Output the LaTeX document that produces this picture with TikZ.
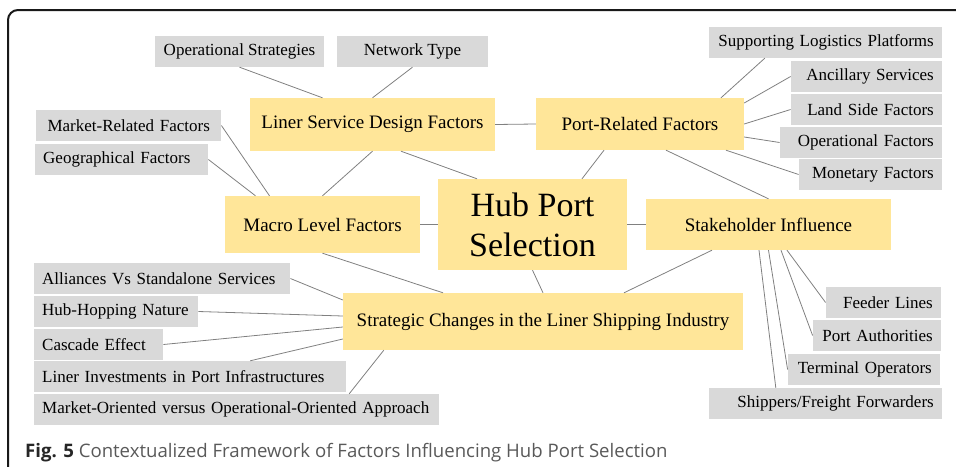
\documentclass[tikz,border=0pt]{standalone}
\usepackage{fontspec}
\setmainfont{Liberation Serif}
\newfontfamily\capfont{Open Sans}
\usepackage{tikz}
\usetikzlibrary{positioning}
\definecolor{boxgray}{HTML}{D9D9D9}
\definecolor{boxgold}{HTML}{FFE699}
\definecolor{linkgray}{HTML}{808080}
\tikzset{
  gbox/.style={fill=boxgray,inner xsep=8pt,inner ysep=0pt,minimum height=31pt,font=\fontsize{17}{20}\selectfont},
  ybox/.style={fill=boxgold,inner sep=0pt,align=center,font=\fontsize{19}{22}\selectfont},
  link/.style={draw=linkgray,line width=0.8pt}
}

\begin{document}
\begin{tikzpicture}[x=1pt,y=-1pt]
  \useasboundingbox (0,0) rectangle (956,466);
  \draw[line width=2pt,rounded corners=10pt,black!90] (8,480) -- (8,10) -- (970,10);

  \node[ybox,minimum width=245pt,minimum height=53pt] (lsd) at (372.5,124.5) {Liner Service Design Factors};
  \node[ybox,minimum width=208pt,minimum height=52pt] (prf) at (640,124) {Port-Related Factors};
  \node[ybox,minimum width=195pt,minimum height=57pt] (mlf) at (322.5,224.5) {Macro Level Factors};
  \node[ybox,minimum width=189pt,minimum height=91pt,font=\fontsize{34}{40}\selectfont] (hub) at (532.5,224.5) {Hub Port\\Selection};
  \node[ybox,minimum width=245pt,minimum height=51pt] (stk) at (768.5,224.5) {Stakeholder Influence};
  \node[ybox,minimum width=400pt,minimum height=57pt] (scl) at (543,321.5) {Strategic Changes in the Liner Shipping Industry};

  \node[gbox,minimum width=169pt] (opst) at (239.5,51.5) {Operational Strategies};
  \node[gbox,minimum width=151pt] (nett) at (412.5,51.5) {Network Type};

  \node[gbox,anchor=west,text width=169pt,align=center] (mrkt) at (36,125.5) {Market-Related Factors};
  \node[gbox,anchor=west,text width=157pt,align=left] (geog) at (35,159.5) {Geographical Factors};
  \node[gbox,anchor=west,text width=240pt,align=left] (alli) at (34,278.5) {Alliances Vs Standalone Services};
  \node[gbox,anchor=west,text width=148pt,align=left] (hubh) at (34,311.5) {Hub-Hopping Nature};
  \node[gbox,anchor=west,text width=113pt,align=left] (casc) at (34,344.5) {Cascade Effect};
  \node[gbox,anchor=west,text width=296pt,align=left] (linv) at (34,376.5) {Liner Investments in Port Infrastructures};
  \node[gbox,anchor=west,text width=389pt,align=left] (mkor) at (34,409.5) {Market-Oriented versus Operational-Oriented Approach};

  \node[gbox,anchor=east,text width=217pt,align=right] (slpf) at (942,42.5) {Supporting Logistics Platforms};
  \node[gbox,anchor=east,text width=135pt,align=right] (ancs) at (942,76.5) {Ancillary Services};
  \node[gbox,anchor=east,text width=135pt,align=right] (lsdf) at (942,109.5) {Land Side Factors};
  \node[gbox,anchor=east,text width=146pt,align=right] (opfa) at (942,142.5) {Operational Factors};
  \node[gbox,anchor=east,text width=127pt,align=right] (mone) at (942,174.5) {Monetary Factors};
  \node[gbox,anchor=east,text width=99pt,align=right] (feed) at (941,302.5) {Feeder Lines};
  \node[gbox,anchor=east,text width=112pt,align=right] (paut) at (941,335.5) {Port Authorities};
  \node[gbox,anchor=east,text width=136pt,align=right] (term) at (940,369.5) {Terminal Operators};
  \node[gbox,anchor=east,text width=217pt,align=right] (ship) at (942,403.5) {Shippers/Freight Forwarders};

  \draw[link] (opst.south) -- ([xshift=-50pt]lsd.north);
  \draw[link] (nett.south) -- (lsd.north);
  \draw[link] (mrkt.east) -- ([xshift=-53pt]mlf.north);
  \draw[link] (geog.east) -- ([xshift=-67pt]mlf.north);
  \draw[link] (lsd.south) -- (mlf.north);
  \draw[link] ([xshift=28.5pt]lsd.south) -- ([xshift=-55.5pt]hub.north);
  \draw[link] (lsd.east) -- (prf.west);
  \draw[link] (mlf.east) -- (hub.west);
  \draw[link] ([xshift=-36pt]prf.south) -- ([xshift=49.5pt]hub.north);
  \draw[link] ([xshift=26pt]prf.south) -- (stk.north);
  \draw[link] ([xshift=81pt]prf.north) -- ([xshift=-60.5pt]slpf.south);
  \draw[link] ([yshift=21pt]prf.east) -- (ancs.west);
  \draw[link] (prf.east) -- (lsdf.west);
  \draw[link] ([yshift=-13pt]prf.east) -- (opfa.west);
  \draw[link] ([xshift=86pt]prf.south) -- (mone.west);
  \draw[link] (hub.east) -- (stk.west);
  \draw[link] (mlf.south) -- ([xshift=-100pt]scl.north);
  \draw[link] (hub.south) -- (scl.north);
  \draw[link] ([xshift=-56.5pt]stk.south) -- ([xshift=81pt]scl.north);
  \draw[link] (alli.east) -- ([yshift=21.5pt]scl.west);
  \draw[link] (hubh.east) -- ([yshift=5.5pt]scl.west);
  \draw[link] (casc.east) -- ([yshift=-5.5pt]scl.west);
  \draw[link] ([xshift=60pt]linv.north) -- ([yshift=-17.5pt]scl.west);
  \draw[link] ([xshift=112.5pt]mkor.north) -- ([xshift=41pt]scl.south west);
  \draw[link] ([xshift=18.5pt]stk.south) -- (feed.west);
  \draw[link] ([xshift=12.5pt]stk.south) -- (paut.west);
  \draw[link] (stk.south) -- (term.west);
  \draw[link] ([xshift=-9.5pt]stk.south) -- ([xshift=-49.5pt]ship.north);

  \node[anchor=base west,inner sep=0pt,font=\capfont\fontsize{18.6}{22}\selectfont] (cap) at (25,457)
    {\textbf{\color{black!85}Fig. 5} \color{black!65}Contextualized Framework of Factors Influencing Hub Port Selection};
\end{tikzpicture}
\end{document}
